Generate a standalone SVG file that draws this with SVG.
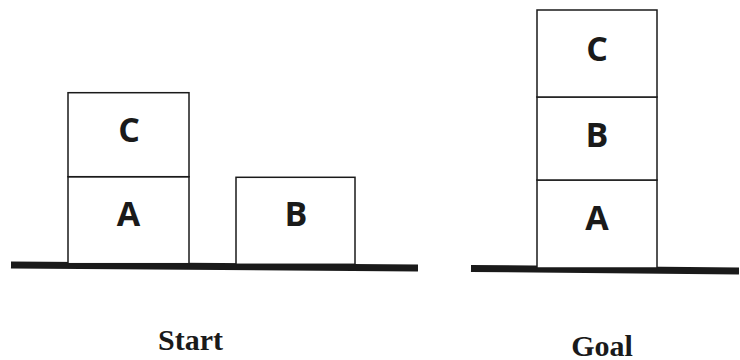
<svg xmlns="http://www.w3.org/2000/svg" width="740" height="360" viewBox="0 0 740 360">
<style>
.box{fill:#fff;stroke:#1a1a1a;stroke-width:1.5}
.lbl{font-family:"Open Sans","DejaVu Sans",sans-serif;font-weight:bold;font-size:34px;fill:#1a1a1a;text-anchor:middle}
.cap{font-family:"Liberation Serif","Times New Roman",serif;font-weight:bold;font-size:30px;fill:#1a1a1a;text-anchor:middle}
.ground{stroke:#1a1a1a;stroke-width:7;fill:none}
</style>
<rect width="740" height="360" fill="#fff"/>
<g id="ground">
<line class="ground" x1="11" y1="265" x2="418" y2="268"/>
<line class="ground" x1="471" y1="268.5" x2="739" y2="271"/>
</g>
<g id="start-A"><rect class="box" x="68" y="176.7" width="121" height="87"/><text class="lbl" x="128.5" y="225.5">A</text></g>
<g id="start-C"><rect class="box" x="68" y="92.7" width="121" height="84"/><text class="lbl" x="129" y="142">C</text></g>
<g id="start-B"><rect class="box" x="236" y="177.3" width="119" height="87"/><text class="lbl" x="296" y="226">B</text></g>
<g id="goal-A"><rect class="box" x="537" y="180" width="120" height="88"/><text class="lbl" x="597" y="230">A</text></g>
<g id="goal-B"><rect class="box" x="537" y="97" width="120" height="83"/><text class="lbl" x="597" y="146.5">B</text></g>
<g id="goal-C"><rect class="box" x="537" y="10" width="120" height="87"/><text class="lbl" x="597" y="61">C</text></g>
<text class="cap" x="190.5" y="350">Start</text>
<text class="cap" x="602" y="355.5">Goal</text>
</svg>
